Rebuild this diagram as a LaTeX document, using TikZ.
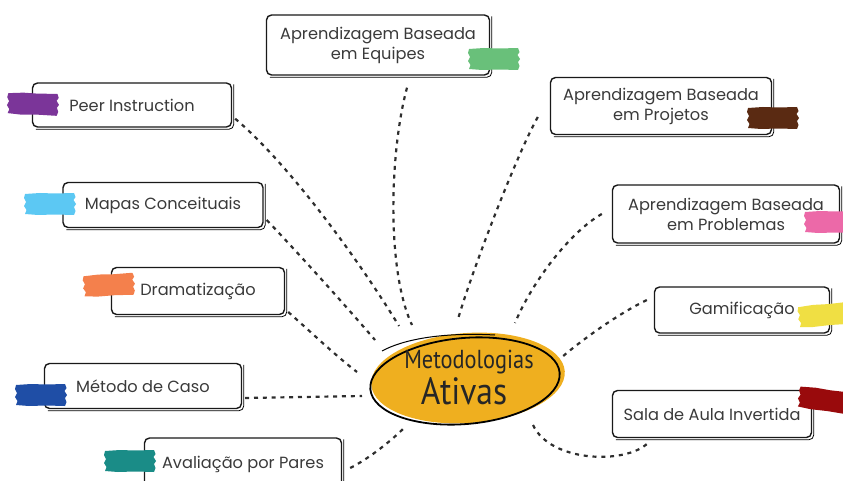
\documentclass[tikz,border=0pt]{standalone}
\usepackage{fontspec}
\setmainfont{Poppins}
\newfontfamily\titlefont{PT Sans}
\usetikzlibrary{calc,shapes.geometric}

\definecolor{inkgray}{HTML}{3A3A3A}
\definecolor{linegray}{HTML}{2E2E2E}
\definecolor{hubfill}{HTML}{EFAF1F}
\definecolor{tapegreen}{HTML}{69C07A}
\definecolor{tapepurple}{HTML}{7B3599}
\definecolor{tapebrown}{HTML}{5A2A12}
\definecolor{tapesky}{HTML}{5CC8F3}
\definecolor{tapepink}{HTML}{EC69A8}
\definecolor{tapeorange}{HTML}{F4804C}
\definecolor{tapeyellow}{HTML}{F0DF43}
\definecolor{tapeblue}{HTML}{1F4EA6}
\definecolor{tapered}{HTML}{990A0C}
\definecolor{tapeteal}{HTML}{1A8C87}

% ragged strip of coloured tape: x, y, colour, angle
\newcommand\tapestrip[4]{%
  \fill[#3,shift={(#1,#2)},rotate=#4]
    (-25,-10) -- (-10,-11) -- (5,-10.5) -- (24,-11) -- (25.5,-7) -- (23.5,-4)
    -- (26,0) -- (24,3) -- (25.5,7) -- (24,11) -- (5,10.5) -- (-12,11)
    -- (-25,10) -- (-23.5,6) -- (-26,2) -- (-24,-2) -- (-26,-6) -- cycle;}

\tikzset{
  topic/.style={draw=black!90, line width=1.4pt, rounded corners=5pt, fill=white,
    align=center, inner sep=0pt, font=\fontsize{16.2}{20}\selectfont, text=inkgray},
  conn/.style={draw=linegray, line width=2.2pt, dash pattern=on 4pt off 4.8pt},
  shade/.style={line width=0.8pt, draw=black, rounded corners=5pt}
}

\newcommand\boxshade[1]{%
  \draw[shade] ([shift={(1.6,2)}]#1.north east) -- ([shift={(1.6,1.6)}]#1.south east)
     -- ([shift={(4,1.6)}]#1.south west);}

\begin{document}
\begin{tikzpicture}[x=1pt,y=-1pt]
\useasboundingbox (0,0) rectangle (843,481);
\clip (0,0) rectangle (843,481);

% central hub
\fill[hubfill, rotate around={4:(468,378)}] (468,378) ellipse [x radius=97, y radius=45];
\draw[black, line width=1.8pt, rotate around={5:(465,381)}] (465,381) ellipse [x radius=95, y radius=43];
\draw[black, line width=1pt] (382,351) .. controls (402,340) and (440,332) .. (495,335);
\node (hub) at (466,380) [ellipse, minimum width=190, minimum height=86, inner sep=0pt] {};
\node (hubtop) at (469,362) {\titlefont\fontsize{26}{28}\selectfont\color{black!85}\scalebox{0.86}[1]{Metodologias}};
\node (hubbot) at (464,391) {\titlefont\fontsize{38}{40}\selectfont\color{black!85}\scalebox{0.88}[1]{Ativas}};

% topic boxes
\node[topic, minimum width=223, minimum height=60] (equipes) at (378,45) {Aprendizagem Baseada\\em Equipes};
\node[topic, minimum width=199, minimum height=44] (peer) at (132,105) {Peer Instruction};
\node[topic, minimum width=221, minimum height=57] (projetos) at (661,106) {Aprendizagem Baseada\\em Projetos};
\node[topic, minimum width=200, minimum height=45] (mapas) at (163,205) {Mapas Conceituais};
\node[topic, minimum width=227, minimum height=58] (problemas) at (726,214) {Aprendizagem Baseada\\em Problemas};
\node[topic, minimum width=173, minimum height=47] (drama) at (198,291) {Dramatização};
\node[topic, minimum width=175, minimum height=46] (gamif) at (742,310) {Gamificação};
\node[topic, minimum width=197, minimum height=45] (metodo) at (143,386) {Método de Caso};
\node[topic, minimum width=199, minimum height=47] (sala) at (712,414) {Sala de Aula Invertida};
\node[topic, minimum width=197, minimum height=52] (pares) at (243,464) {Avaliação por Pares};

\foreach \b in {equipes,peer,projetos,mapas,problemas,drama,gamif,metodo,sala,pares}{\boxshade{\b}}

% tape strips
\tapestrip{494}{59}{tapegreen}{0}
\tapestrip{33}{104}{tapepurple}{-2}
\tapestrip{773}{118}{tapebrown}{0}
\tapestrip{50}{204}{tapesky}{0}
\tapestrip{830}{222}{tapepink}{0}
\tapestrip{109}{285}{tapeorange}{3}
\tapestrip{824}{315}{tapeyellow}{5}
\tapestrip{41}{395}{tapeblue}{0}
\tapestrip{824}{400}{tapered}{-8}
\tapestrip{130}{461}{tapeteal}{0}

% connector ends on the hub
\coordinate (hEq) at (412,325);
\coordinate (hPe) at (399,326);
\coordinate (hPj) at (458,319);
\coordinate (hMa) at (375,340);
\coordinate (hPb) at (515,323);
\coordinate (hDr) at (357,372);
\coordinate (hGa) at (562,357);
\coordinate (hMe) at (362,396);
\coordinate (hSa) at (533,425);
\coordinate (hPa) at (404,428);
\coordinate (sEnd) at (648,443);

% dashed connectors
\draw[conn] ([shift={(29,12)}]equipes.south) .. controls (390,150) and (386,270) .. (hEq);
\draw[conn] ([shift={(3,-9)}]peer.south east) .. controls (290,165) and (360,262) .. (hPe);
\draw[conn] ([shift={(-12,11)}]projetos.west) .. controls (518,152) and (474,265) .. (hPj);
\draw[conn] ([shift={(3,15)}]mapas.east) .. controls (300,255) and (345,305) .. (hMa);
\draw[conn] ([shift={(-10,0)}]problemas.west) .. controls (570,232) and (532,282) .. (hPb);
\draw[conn] ([shift={(3,21)}]drama.east) .. controls (312,333) and (336,356) .. (hDr);
\draw[conn] ([shift={(-7,-10)}]gamif.west) .. controls (622,312) and (588,335) .. (hGa);
\draw[conn] ([shift={(3,12)}]metodo.east) -- (hMe);
\draw[conn] ([shift={(8,4)}]pares.east) .. controls (370,458) and (392,440) .. (hPa);
\draw[conn] (hSa) .. controls (550,462) and (625,465) .. (sEnd);

\end{tikzpicture}
\end{document}
